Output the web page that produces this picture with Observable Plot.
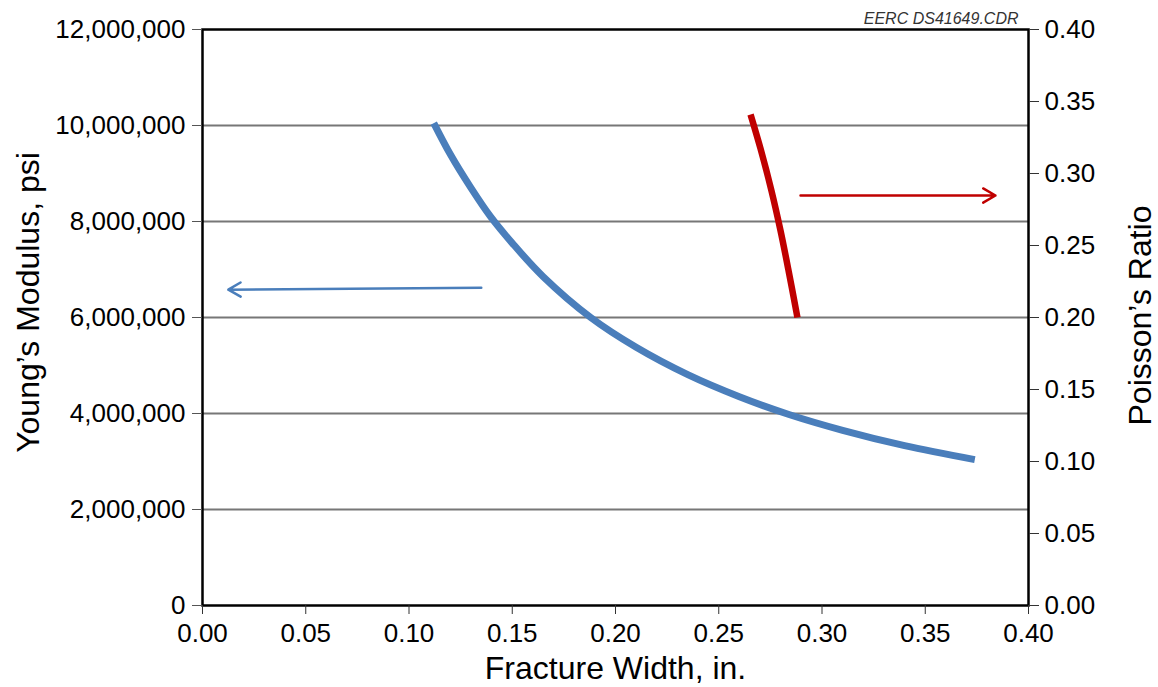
<!DOCTYPE html>
<html><head><meta charset="utf-8">
<script src="https://cdn.jsdelivr.net/npm/d3@7"></script>
<script src="https://cdn.jsdelivr.net/npm/@observablehq/plot@0.6"></script>
<style>
body{margin:0;background:#fff;}
#chart{width:1158px;height:687px;}
</style>
</head><body><div id="chart"></div>
<script>
// Young's modulus curve (left axis)
const youngWidth = [0.112, 0.120, 0.130, 0.1395, 0.150, 0.165, 0.188, 0.210, 0.235, 0.260, 0.284, 0.310, 0.340, 0.374];
const youngPsi   = [10050000, 9400000, 8700000, 8100000, 7550000, 6850000, 6000000, 5380000, 4810000, 4350000, 3980000, 3650000, 3330000, 3040000];
// Poisson's ratio curve (right axis)
const poissonWidth = [0.2654, 0.2702, 0.2755, 0.2799, 0.2838, 0.2881];
const poissonRatio = [0.341, 0.3174, 0.2882, 0.2604, 0.2326, 0.200];
// Arrows pointing to each curve's axis
const blueArrow = {x1: 0.135, y1: 6620000, x2: 0.0125, y2: 6580000};
const redArrow  = {x1: 0.2896, v1: 0.2847, x2: 0.384, v2: 0.2847};
// Axes
const xTicks = [0, 0.05, 0.10, 0.15, 0.20, 0.25, 0.30, 0.35, 0.40];
const yTicks = [0, 2000000, 4000000, 6000000, 8000000, 10000000, 12000000];
const gridValues = [2000000, 4000000, 6000000, 8000000, 10000000];
const poissonTicks = [0, 0.05, 0.10, 0.15, 0.20, 0.25, 0.30, 0.35, 0.40];
const xTitle = "Fracture Width, in.";
const yTitle = "Young\u2019s Modulus, psi";
const y2Title = "Poisson\u2019s Ratio";
const note = "EERC DS41649.CDR";

const K = 12000000 / 0.40; // Poisson -> left-axis units
const youngData = youngWidth.map((x, i) => ({x, y: youngPsi[i]}));
const poissonData = poissonWidth.map((x, i) => ({x, y: poissonRatio[i] * K}));
const arrows = [
  {...blueArrow, c: "#4a7ebb"},
  {x1: redArrow.x1, y1: redArrow.v1 * K, x2: redArrow.x2, y2: redArrow.v2 * K, c: "#c00000"}
];
const font = "'Liberation Sans', Arial, Helvetica, sans-serif";

const chart = Plot.plot({
  width: 1158, height: 687,
  marginLeft: 202, marginRight: 130, marginTop: 29, marginBottom: 82,
  style: {fontFamily: font, color: "#000", background: "#fff"},
  x: {domain: [0, 0.40]},
  y: {domain: [0, 12000000]},
  marks: [
    Plot.ruleY(gridValues, {stroke: "#777", strokeWidth: 2}),
    Plot.frame({stroke: "#000", strokeWidth: 2.5}),
    Plot.axisX({ticks: xTicks, tickFormat: d3.format(".2f"), tickSize: 9, tickPadding: 9, fontSize: 26, label: null, stroke: "#333"}),
    Plot.axisY({anchor: "left", ticks: yTicks, tickFormat: d3.format(","), tickSize: 10, tickPadding: 7, fontSize: 26, label: null, stroke: "#555"}),
    Plot.axisY({anchor: "right", ticks: poissonTicks.map(v => v * K), tickFormat: d => (d / K).toFixed(2), tickSize: 10, tickPadding: 6, fontSize: 26, label: null, stroke: "#333"}),
    Plot.line(youngData, {x: "x", y: "y", stroke: "#4a7ebb", strokeWidth: 7, curve: "catmull-rom", strokeLinecap: "butt"}),
    Plot.line(poissonData, {x: "x", y: "y", stroke: "#c00000", strokeWidth: 6.5, curve: "catmull-rom", strokeLinecap: "butt"}),
    Plot.arrow(arrows, {x1: "x1", y1: "y1", x2: "x2", y2: "y2", stroke: "c", strokeWidth: 2.5, headLength: 8.5, headAngle: 60}),
    Plot.text([yTitle], {frameAnchor: "left", textAnchor: "middle", rotate: -90, dx: -174, dy: -15, fontSize: 32, lineAnchor: "middle"}),
    Plot.text([y2Title], {frameAnchor: "right", textAnchor: "middle", rotate: -90, dx: 112, dy: -2, fontSize: 32, lineAnchor: "middle"}),
    Plot.text([xTitle], {frameAnchor: "bottom", dy: 63, fontSize: 32, lineAnchor: "middle"}),
    Plot.text([note], {frameAnchor: "top-right", dx: -10, dy: -6, textAnchor: "end", lineAnchor: "bottom", fontSize: 16, fontStyle: "italic", fill: "#333"})
  ]
});
document.getElementById("chart").append(chart);
</script>
</body></html>
